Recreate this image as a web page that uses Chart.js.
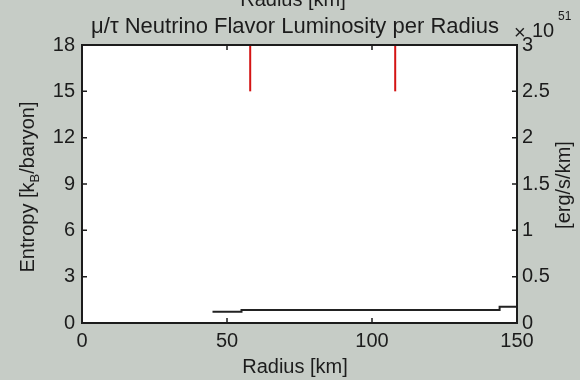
<!DOCTYPE html>
<html>
<head>
<meta charset="utf-8">
<script src="https://cdn.jsdelivr.net/npm/chart.js@4/dist/chart.umd.min.js"></script>
<style>
  html, body { margin: 0; padding: 0; background: #c6ccc6; }
  #chart { display: block; }
</style>
</head>
<body>
<canvas id="chart" width="580" height="380"></canvas>
<script>
// tick labels
const radiusTicks = [0, 50, 100, 150];
const entropyTicks = [0, 3, 6, 9, 12, 15, 18];
const lumTicks = [0, 0.5, 1, 1.5, 2, 2.5, 3];

// black stepped curve (entropy axis)
const lineRadius = [45, 55, 144, 150];
const lineEntropy = [0.73, 0.84, 1.05, 1.05];

// red vertical markers
const markerRadius = [58, 108];
const markerRange = [15, 18];

const FONT = '"Liberation Sans", Arial, sans-serif';
const INK = '#1c1c1c';

const markerSets = markerRadius.map(r => ({
  data: markerRange.map(v => ({ x: r, y: v })),
  borderColor: '#d41414',
  borderWidth: 2,
  pointRadius: 0,
  yAxisID: 'y'
}));

const frame = {
  id: 'frame',
  beforeDatasetsDraw(chart) {
    const { ctx, chartArea: a } = chart;
    ctx.save();
    ctx.fillStyle = '#ffffff';
    ctx.fillRect(a.left, a.top, a.right - a.left, a.bottom - a.top);
    ctx.restore();
  },
  afterDatasetsDraw(chart) {
    const { ctx, chartArea: a, scales } = chart;
    ctx.save();
    ctx.strokeStyle = INK;
    ctx.lineWidth = 2;
    ctx.strokeRect(a.left, a.top, a.right - a.left, a.bottom - a.top);
    ctx.lineWidth = 1.5;
    ctx.beginPath();
    const len = 5;
    radiusTicks.forEach(v => {
      const px = scales.x.getPixelForValue(v);
      ctx.moveTo(px, a.bottom); ctx.lineTo(px, a.bottom - len);
      ctx.moveTo(px, a.top); ctx.lineTo(px, a.top + len);
    });
    entropyTicks.forEach(v => {
      const py = scales.y.getPixelForValue(v);
      ctx.moveTo(a.left, py); ctx.lineTo(a.left + len, py);
    });
    lumTicks.forEach(v => {
      const py = scales.y2.getPixelForValue(v);
      ctx.moveTo(a.right, py); ctx.lineTo(a.right - len, py);
    });
    ctx.stroke();

    // titles
    ctx.fillStyle = INK;
    ctx.textAlign = 'center';
    ctx.textBaseline = 'alphabetic';
    ctx.font = '20px ' + FONT;
    ctx.fillText('Radius [km]', 293, 6);
    ctx.fillText('Radius [km]', 295, 373);
    ctx.font = '22px ' + FONT;
    ctx.fillText('\u03bc/\u03c4 Neutrino Flavor Luminosity per Radius', 295, 33);

    // exponent
    ctx.textAlign = 'left';
    ctx.font = '20px ' + FONT;
    ctx.fillText('\u00d7', 514, 39);
    ctx.fillText('10', 532, 37);
    ctx.font = '12px ' + FONT;
    ctx.fillText('51', 558, 20);

    // left axis title with subscript
    ctx.save();
    ctx.translate(34, 187);
    ctx.rotate(-Math.PI / 2);
    const parts = [['Entropy [k', 20, 0], ['B', 13, 5], ['/baryon]', 20, 0]];
    let w = 0;
    parts.forEach(p => { ctx.font = p[1] + 'px ' + FONT; w += ctx.measureText(p[0]).width; });
    let x = -w / 2;
    parts.forEach(p => {
      ctx.font = p[1] + 'px ' + FONT;
      ctx.fillText(p[0], x, p[2]);
      x += ctx.measureText(p[0]).width;
    });
    ctx.restore();

    // right axis title
    ctx.save();
    ctx.translate(570, 185);
    ctx.rotate(-Math.PI / 2);
    ctx.textAlign = 'center';
    ctx.font = '20px ' + FONT;
    ctx.fillText('[erg/s/km]', 0, 0);
    ctx.restore();
    ctx.restore();
  }
};

const tickFont = { family: FONT, size: 20 };
const plain = v => String(v);

new Chart(document.getElementById('chart'), {
  type: 'line',
  data: {
    datasets: [
      {
        data: lineRadius.map((r, i) => ({ x: r, y: lineEntropy[i] })),
        borderColor: '#222222',
        borderWidth: 2,
        pointRadius: 0,
        stepped: true,
        yAxisID: 'y'
      },
      ...markerSets
    ]
  },
  options: {
    responsive: false,
    animation: false,
    devicePixelRatio: 1,
    layout: { padding: { top: 45, left: 0, right: 0, bottom: 0 } },
    plugins: { legend: { display: false }, tooltip: { enabled: false }, title: { display: false } },
    scales: {
      x: {
        type: 'linear',
        min: 0, max: 150,
        afterBuildTicks: s => { s.ticks = radiusTicks.map(v => ({ value: v })); },
        afterFit: s => { s.height = 57; },
        grid: { drawOnChartArea: false, drawTicks: false },
        border: { display: false },
        ticks: { font: tickFont, color: INK, padding: 6, maxRotation: 0, callback: plain }
      },
      y: {
        position: 'left',
        min: 0, max: 18,
        afterBuildTicks: s => { s.ticks = entropyTicks.map(v => ({ value: v })); },
        afterFit: s => { s.width = 82; },
        grid: { drawOnChartArea: false, drawTicks: false },
        border: { display: false },
        ticks: { font: tickFont, color: INK, padding: 7, callback: plain }
      },
      y2: {
        position: 'right',
        min: 0, max: 3,
        afterBuildTicks: s => { s.ticks = lumTicks.map(v => ({ value: v })); },
        afterFit: s => { s.width = 63; },
        grid: { drawOnChartArea: false, drawTicks: false },
        border: { display: false },
        ticks: { font: tickFont, color: INK, padding: 5, callback: plain }
      }
    }
  },
  plugins: [frame]
});
</script>
</body>
</html>
